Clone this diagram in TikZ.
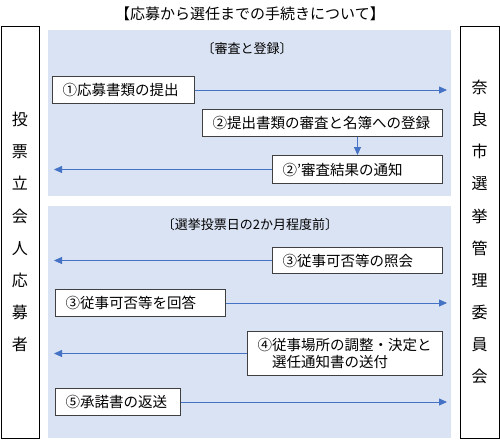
\documentclass[tikz,border=0pt]{standalone}
\usepackage{fontspec}
\setmainfont{Noto Sans CJK JP}
\usetikzlibrary{arrows.meta}
\usetikzlibrary{positioning}
\definecolor{feldblau}{HTML}{DAE3F3}
\definecolor{pfeilblau}{HTML}{4472C4}
\definecolor{rahmen}{HTML}{404040}
\tikzset{
    %Define standard arrow tip
    >={Triangle[length=8pt,width=7pt]},
    %Define style for step boxes
    schritt/.style={
           rectangle,
           draw=rahmen, line width=1pt,
           fill=white,
           anchor=north west,
           inner xsep=10pt,
           align=left,
           font=\fontsize{14.5}{16.5}\selectfont},
    %Define style for side boxes
    seite/.style={
           rectangle,
           draw=black, line width=1pt,
           fill=white,
           minimum width=38pt,
           minimum height=412pt,
           align=center,
           font=\fontsize{16}{32.1}\selectfont},
    % Define panel style
    feld/.style={fill=feldblau},
    untertitel/.style={font=\fontsize{13}{15}\selectfont},
    % Define arrow style
    pfeil/.style={
           ->,
           draw=pfeilblau,
           fill=pfeilblau,
           line width=0.8pt},
}

\begin{document}
\begin{tikzpicture}[x=1pt,y=-1pt]
\useasboundingbox (0,0) rectangle (500,439);
\coordinate (links) at (54,0);
\coordinate (rechts) at (447,0);

% Titel
\node[font=\fontsize{15}{18}\selectfont] (titel) at (250,14) {【応募から選任までの手続きについて】};

% Felder
\fill[feld] (48,30) rectangle (451,196);
\fill[feld] (48,206) rectangle (451,438);
\node[untertitel] (oben) at (247,49) {〔審査と登録〕};
\node[untertitel] (unten) at (250,225) {〔選挙投票日の2か月程度前〕};

% Seitenkaesten
\node[seite] (bewerber) at (20,232) {投\\票\\立\\会\\人\\応\\募\\者};
\node[seite, minimum width=39pt] (ausschuss) at (479.5,232) {奈\\良\\市\\選\\挙\\管\\理\\委\\員\\会};

% Oberes Feld
\node[schritt, text width=122pt, minimum height=27pt] (antrag) at (52,76) {①応募書類の提出};
\node[schritt, text width=220pt, minimum height=27pt] (pruefung) at (202,109) {②提出書類の審査と名簿への登録};
\node[schritt, text width=150pt, minimum height=28pt] (ergebnis) at (272,155) {②’審査結果の通知};

% Unteres Feld
\node[schritt, text width=150pt, minimum height=26pt] (anfrage) at (272,247) {③従事可否等の照会};
\node[schritt, text width=150pt, minimum height=27pt] (antwort) at (55,289) {③従事可否等を回答};
\node[schritt, text width=175pt, minimum height=44pt] (einsatz) at (247,331) {④従事場所の調整・決定と\\　選任通知書の送付};
\node[schritt, text width=105pt, minimum height=27pt] (zusage) at (55,388) {⑤承諾書の返送};

% Pfeile
\draw[pfeil] (antrag.east) -- (antrag.east -| rechts);
\draw[pfeil] (pruefung.south -| ergebnis) -- (ergebnis.north);
\draw[pfeil] (ergebnis.west) -- (ergebnis.west -| links);
\draw[pfeil] (anfrage.west) -- (anfrage.west -| links);
\draw[pfeil] (antwort.east) -- (antwort.east -| rechts);
\draw[pfeil] (einsatz.west) -- (einsatz.west -| links);
\draw[pfeil] (zusage.east) -- (zusage.east -| rechts);
\end{tikzpicture}
\end{document}
